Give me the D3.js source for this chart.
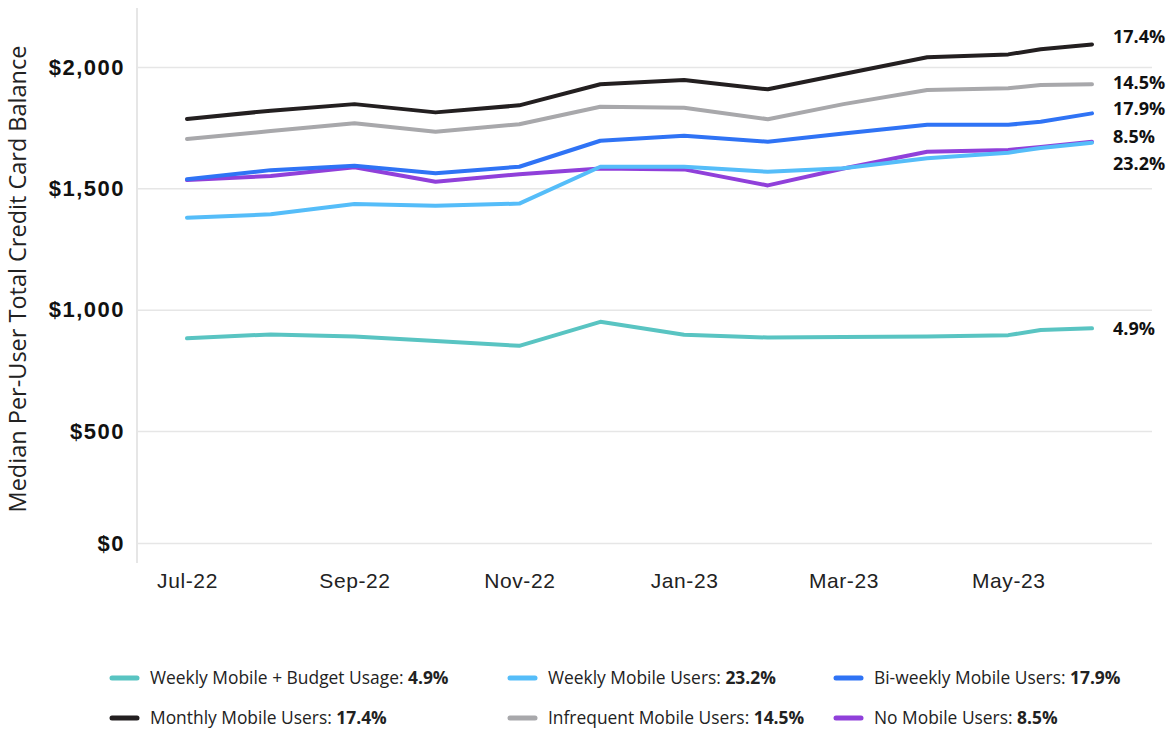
<!DOCTYPE html>
<html>
<head>
<meta charset="utf-8">
<script src="https://cdn.jsdelivr.net/npm/d3@7"></script>
<style>
  body { margin: 0; background: #fff; }
  svg { font-family: "Open Sans", "Noto Sans", sans-serif; }
</style>
</head>
<body>
<div id="chart"></div>
<script>
// months of data, plus one extra reading in mid-May
var dates = ["2022-07-01", "2022-08-01", "2022-09-01", "2022-10-01", "2022-11-01", "2022-12-01",
  "2023-01-01", "2023-02-01", "2023-03-01", "2023-04-01", "2023-05-01", "2023-05-13", "2023-06-01"];

var budgetWeekly  = [882, 898, 889, 871, 851, 950, 897, 885, 887, 889, 895, 916, 923];
var weekly        = [1379, 1393, 1435, 1428, 1437, 1589, 1589, 1568, 1583, 1624, 1647, 1666, 1688];
var biweekly      = [1537, 1575, 1593, 1562, 1589, 1696, 1717, 1692, 1726, 1762, 1762, 1774, 1809];
var monthly       = [1786, 1820, 1847, 1813, 1842, 1929, 1946, 1908, 1971, 2040, 2052, 2073, 2093];
var infrequent    = [1703, 1736, 1768, 1733, 1764, 1836, 1832, 1785, 1847, 1905, 1912, 1926, 1929];
var noMobile      = [1534, 1551, 1587, 1527, 1558, 1582, 1578, 1512, 1582, 1651, 1658, 1670, 1692];

var seriesNames = ["Weekly Mobile + Budget Usage", "Weekly Mobile Users", "Bi-weekly Mobile Users",
  "Monthly Mobile Users", "Infrequent Mobile Users", "No Mobile Users"];
var growth = ["4.9%", "23.2%", "17.9%", "17.4%", "14.5%", "8.5%"];
var yTicks = [0, 500, 1000, 1500, 2000];

var colors = ["#59c4c2", "#55bdf9", "#2f73f5", "#231f20", "#a8a8ab", "#9040da"];
// vertical nudge of the end labels so they don't collide
var labelNudge = [0, 21, -5, -8, -2, -5];

var width = 1170,
height = 730;

var parseDate = d3.timeParse("%Y-%m-%d");
var x = d3.scaleTime()
  .domain([parseDate(dates[0]), parseDate(dates[dates.length - 1])])
  .range([187, 1092]);

// the baseline sits a little higher than a straight scale would put it
var y = d3.scaleLinear()
  .domain([0, 500, 2000])
  .range([543, 431, 67]);

var svg = d3.select("#chart").append("svg")
  .attr("width", width)
  .attr("height", height);

var allValues = [budgetWeekly, weekly, biweekly, monthly, infrequent, noMobile];
var series = seriesNames.map(function(name, i) {
  return {
    name: name,
    growth: growth[i],
    color: colors[i],
    nudge: labelNudge[i],
    values: allValues[i].map(function(v, j) { return { date: parseDate(dates[j]), value: v }; })
  };
});

// gridlines + y labels
var yAxis = svg.append("g")
  .attr("transform", "translate(137,0)")
  .call(d3.axisLeft(y)
    .tickValues(yTicks)
    .tickSize(-1015)
    .tickPadding(12)
    .tickFormat(d3.format("$,")));
yAxis.select(".domain").remove();
yAxis.selectAll(".tick line")
  .attr("stroke", "#e6e6e6")
  .attr("stroke-width", 1.5);
yAxis.selectAll(".tick text")
  .style("font-size", "22px")
  .style("font-weight", "bold")
  .style("letter-spacing", "1.5px")
  .attr("fill", "#111");

svg.append("line")
  .attr("x1", 137).attr("x2", 137)
  .attr("y1", 8).attr("y2", 563)
  .attr("stroke", "#e6e6e6")
  .attr("stroke-width", 2);

svg.append("text")
  .attr("transform", "translate(26,279) rotate(-90)")
  .attr("text-anchor", "middle")
  .style("font-size", "23.5px")
  .attr("fill", "#222")
  .text("Median Per-User Total Credit Card Balance");

// x labels
var xAxis = svg.append("g")
  .attr("transform", "translate(0,569)")
  .call(d3.axisBottom(x)
    .ticks(d3.timeMonth.every(2))
    .tickSize(0)
    .tickPadding(4)
    .tickFormat(d3.timeFormat("%b-%y")));
xAxis.select(".domain").remove();
xAxis.selectAll(".tick text")
  .style("font-size", "21px")
  .style("letter-spacing", "0.6px")
  .attr("fill", "#222");

var line = d3.line()
  .x(function(d) { return x(d.date); })
  .y(function(d) { return y(d.value); });

// purple first, so the blues sit on top of it
svg.selectAll(".series")
  .data(series.slice().reverse())
  .enter()
  .append("path")
  .attr("class", "series")
  .attr("d", function(d) { return line(d.values); })
  .attr("fill", "none")
  .attr("stroke", function(d) { return d.color; })
  .attr("stroke-width", 4)
  .attr("stroke-linejoin", "round")
  .attr("stroke-linecap", "round");

svg.selectAll(".endlabel")
  .data(series)
  .enter()
  .append("text")
  .attr("class", "endlabel")
  .attr("x", 1113)
  .attr("y", function(d) { return y(d.values[d.values.length - 1].value) + d.nudge; })
  .attr("dy", "0.35em")
  .style("font-size", "18px")
  .style("font-weight", "bold")
  .attr("fill", "#111")
  .text(function(d) { return d.growth; });

// legend, 3 per row
var legend = svg.selectAll(".legend")
  .data(series)
  .enter()
  .append("g")
  .attr("class", "legend")
  .attr("transform", function(d, i) {
    var cols = [110, 508, 834];
    return "translate(" + cols[i % 3] + "," + (678 + Math.floor(i / 3) * 40) + ")";
  });

legend.append("line")
  .attr("x1", 2).attr("x2", 27)
  .attr("stroke", function(d) { return d.color; })
  .attr("stroke-width", 5)
  .attr("stroke-linecap", "round");

var lt = legend.append("text")
  .attr("x", 40)
  .attr("dy", "0.35em")
  .style("font-size", "17.4px")
  .attr("fill", "#222");
lt.append("tspan").text(function(d) { return d.name + ": "; });
lt.append("tspan").style("font-weight", "bold").text(function(d) { return d.growth; });
</script>
</body>
</html>
